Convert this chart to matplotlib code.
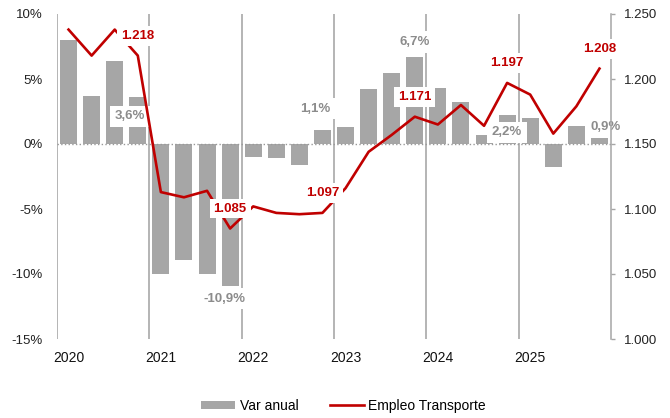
import matplotlib.pyplot as plt
from matplotlib.patches import Patch
from matplotlib.lines import Line2D
import numpy as np

plt.rcParams['font.family'] = ['Liberation Sans', 'DejaVu Sans']

years = ['2020', '2021', '2022', '2023', '2024', '2025']
var_anual = [8.0, 3.7, 6.4, 3.6, -10.0, -8.9, -10.0, -10.9,
             -1.0, -1.1, -1.6, 1.1, 1.3, 4.2, 5.5, 6.7,
             4.3, 3.2, 0.7, 2.2, 2.0, -1.8, 1.4, 0.9]
empleo = [1.238, 1.218, 1.238, 1.218, 1.113, 1.109, 1.114, 1.085,
          1.102, 1.097, 1.096, 1.097, 1.116, 1.144, 1.157, 1.171,
          1.165, 1.180, 1.164, 1.197, 1.188, 1.158, 1.179, 1.208]
labelled = [3, 7, 11, 15, 19, 23]

# label offsets in pixels (dx, dy) for the bar labels
bar_offsets = {3: (-8, -19), 7: (-6, -13), 11: (-7, 21),
               15: (0, 15), 19: (0, -17), 23: (6, 5)}

GRAY = '#A6A6A6'
RED = '#C00000'

x = np.arange(len(var_anual))

fig = plt.figure(figsize=(6.7, 4.18), dpi=100)
ax = fig.add_axes([57 / 670, 79 / 418, 554 / 670, 325 / 418])
ax2 = ax.twinx()

ax.bar(x, var_anual, width=0.74, color=GRAY, zorder=2)
ax.axhline(0, color='#999999', linestyle=':', lw=1, zorder=3)
for b in range(0, len(x), 4):
    ax.axvline(b - 0.5, color='#A0A0A0', lw=1.1, zorder=1)

ax.set_xlim(-0.5, len(x) - 0.5)
ax.set_ylim(-15, 10)
ax.set_yticks([10, 5, 0, -5, -10, -15])
ax.set_yticklabels(['10%', '5%', '0%', '-5%', '-10%', '-15%'])
ax.set_xticks(x[::4])
ax.set_xticklabels(years)
ax.tick_params(axis='y', length=0, pad=10, labelsize=9.5, labelcolor='#222222')
ax.tick_params(axis='x', length=0, pad=9, labelsize=10, labelcolor='#111111')
for s in ax.spines.values():
    s.set_visible(False)

for i in labelled:
    v = var_anual[i]
    ax.annotate(f'{v:.1f}%'.replace('.', ','), (x[i], v),
                xytext=bar_offsets[i], textcoords='offset pixels',
                ha='center', va='center', fontsize=9.5, fontweight='bold',
                color='#8C8C8C', zorder=4,
                bbox=dict(boxstyle='square,pad=0.35', fc='white', ec='none'))

ax2.plot(x, empleo, color=RED, lw=1.9, zorder=2)
ax2.set_ylim(1.0, 1.25)
ax2.set_yticks(np.arange(1.0, 1.2501, 0.05))
ax2.set_yticklabels([f'{t:.3f}' for t in np.arange(1.0, 1.2501, 0.05)])
ax2.tick_params(axis='y', direction='out', length=3, width=1, color=GRAY,
                pad=6.5, labelsize=9.5, labelcolor='#222222')
for name, s in ax2.spines.items():
    s.set_visible(name == 'right')
ax2.spines['right'].set_color(GRAY)
ax2.spines['right'].set_linewidth(1.1)

for i in labelled:
    v = empleo[i]
    ax2.annotate(f'{v:.3f}', (x[i], v), xytext=(0, 20),
                 textcoords='offset pixels', ha='center', va='center',
                 fontsize=9.5, fontweight='bold', color=RED, zorder=4,
                 bbox=dict(boxstyle='square,pad=0.3', fc='white', ec='none'))

handles = [Patch(facecolor=GRAY, edgecolor='none'),
           Line2D([0], [0], color=RED, lw=1.9)]
fig.legend(handles, ['Var anual', 'Empleo Transporte'], loc='center',
           bbox_to_anchor=(0.513, 0.029), ncol=2, frameon=False,
           fontsize=10, handlelength=2.45, handletextpad=0.3,
           columnspacing=2.3, handleheight=0.6)

fig.savefig('out.png', dpi=100)
